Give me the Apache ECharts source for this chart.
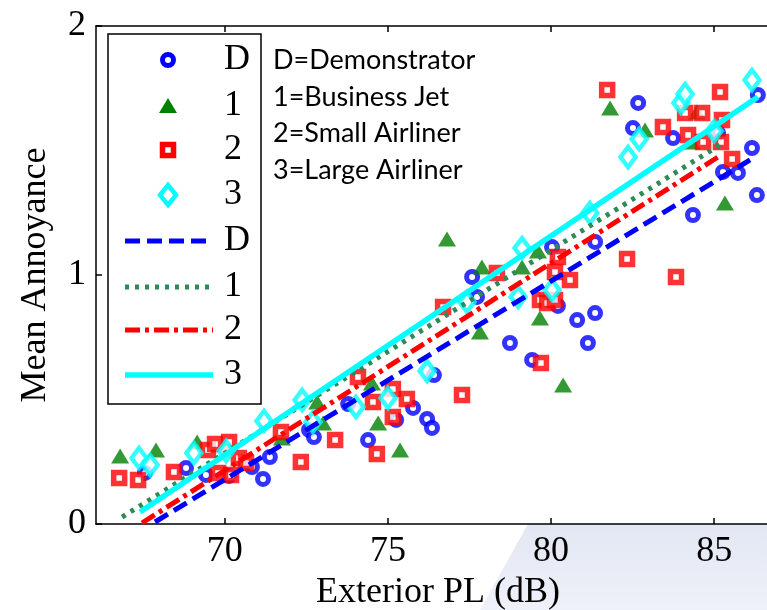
<!DOCTYPE html>
<html>
<head>
<meta charset="utf-8">
<script src="https://cdn.jsdelivr.net/npm/echarts@6/dist/echarts.min.js"></script>
<style>html,body{margin:0;padding:0;background:#fff}#c{width:767px;height:610px}</style>
</head>
<body>
<div id="c"></div>
<script>
// ---- data ----
var xTicks = [70, 75, 80, 85];
var yTicks = [0, 1, 2];
var seriesD = [[67.55,0.205],[68.81,0.225],[69.42,0.197],[70.13,0.193],[70.83,0.229],[71.17,0.181],[71.38,0.269],[72.58,0.378],[72.73,0.349],[73.78,0.482],[74.39,0.337],[75.25,0.418],[75.77,0.466],[76.20,0.422],[76.35,0.386],[76.41,0.598],[77.58,0.992],[77.73,0.912],[78.74,0.727],[79.42,0.659],[80.03,1.112],[80.21,0.876],[80.80,0.819],[81.35,0.847],[81.13,0.727],[81.35,1.133],[82.67,1.691],[82.51,1.590],[83.74,1.550],[84.35,1.241],[85.12,1.570],[85.27,1.414],[85.73,1.410],[86.16,1.510],[86.34,1.723],[86.31,1.321]];
var series1 = [[66.79,0.273],[67.89,0.297],[69.15,0.329],[71.75,0.345],[72.83,0.490],[73.01,0.406],[74.51,0.566],[74.70,0.406],[75.37,0.297],[76.81,1.145],[77.88,1.032],[77.82,0.771],[79.11,1.032],[79.60,1.096],[79.66,0.827],[80.37,0.558],[81.81,1.671],[82.88,1.582],[84.47,1.655],[84.32,1.534],[85.33,1.289]];
var series2 = [[66.76,0.185],[67.34,0.177],[68.44,0.209],[69.48,0.297],[69.70,0.321],[70.13,0.329],[69.79,0.205],[70.19,0.197],[70.43,0.265],[70.65,0.245],[71.72,0.369],[72.33,0.249],[73.38,0.337],[74.08,0.590],[74.54,0.490],[75.15,0.542],[75.58,0.502],[75.15,0.430],[74.66,0.281],[76.69,0.871],[77.27,0.518],[78.34,1.008],[79.66,0.900],[79.88,0.888],[80.12,0.900],[80.58,0.980],[80.21,1.072],[80.12,1.012],[79.69,0.647],[82.33,1.064],[83.83,0.992],[81.72,1.743],[85.18,1.735],[83.43,1.594],[84.11,1.651],[84.63,1.651],[85.24,1.622],[84.20,1.562],[84.66,1.534],[85.21,1.534],[85.55,1.466]];
var series3 = [[67.37,0.265],[67.71,0.237],[69.05,0.285],[70.04,0.293],[71.20,0.414],[72.37,0.498],[72.70,0.410],[74.02,0.470],[75.00,0.506],[76.20,0.614],[77.42,0.892],[78.99,0.912],[79.11,1.108],[80.03,0.940],[81.19,1.249],[82.36,1.474],[82.70,1.546],[83.98,1.691],[84.11,1.727],[85.00,1.578],[86.16,1.783]];
var fitD = [[67.86,0.008],[86.10,1.462]];
var fit1 = [[66.85,0.028],[85.27,1.530]];
var fit2 = [[67.46,0.004],[85.12,1.474]];
var fit3 = [[67.40,0.048],[86.34,1.715]];
var legendLabels = ['D','1','2','3','D','1','2','3'];
var noteLines = ['D=Demonstrator','1=Business Jet','2=Small Airliner','3=Large Airliner'];

// ---- styles ----
var BLUE='#0000ff', GREEN='#008000', DGREEN='#2e8b57', RED='#ff0000', CYAN='#00ffff';
var serif = 'Liberation Serif';

var chart = echarts.init(document.getElementById('c'), null, {renderer:'canvas'});

var lineStyles = [
  {color:BLUE, width:5, type:[15,7]},
  {color:DGREEN, width:5, type:[4,6]},
  {color:RED, width:5, type:[15,5,4,5]},
  {color:CYAN, width:5.5, type:'solid'}
];

var g = [];
g.push({type:'polygon', silent:true, z:0, shape:{points:[[480,610],[528,524],[767,524],[767,610]]},
  style:{fill:new echarts.graphic.LinearGradient(0,0,0,1,[{offset:0,color:'#e3e7f3'},{offset:1,color:'#eef1f9'}])}});
g.push({type:'rect', z:10, shape:{x:108,y:34,width:153,height:370}, style:{fill:'#fff', stroke:'#000', lineWidth:1.5}});
var rowY = [60,106,150,195,241,287,330,375];
var mx = 168;
g.push({type:'circle', z:11, shape:{cx:mx, cy:rowY[0], r:5.5}, style:{fill:'#fff', stroke:BLUE, lineWidth:5}});
g.push({type:'polygon', z:11, shape:{points:[[mx-9,rowY[1]+7],[mx+9,rowY[1]+7],[mx,rowY[1]-8]]}, style:{fill:GREEN}});
g.push({type:'rect', z:11, shape:{x:mx-5.5,y:rowY[2]-5.5,width:11,height:11}, style:{fill:'#fff', stroke:RED, lineWidth:5.5}});
g.push({type:'polygon', z:11, shape:{points:[[mx,rowY[3]-10],[mx+8,rowY[3]],[mx,rowY[3]+10],[mx-8,rowY[3]]]}, style:{fill:'#fff', stroke:CYAN, lineWidth:4.5}});
for (var i=0;i<4;i++){
  var ls = lineStyles[i];
  g.push({type:'line', z:11, shape:{x1:125,y1:rowY[4+i],x2:213,y2:rowY[4+i]},
    style:{stroke:ls.color, lineWidth:ls.width, lineDash: ls.type==='solid'?null:ls.type}});
}
for (var j=0;j<legendLabels.length;j++){
  g.push({type:'text', z:11, x:224, y:rowY[j], style:{text:legendLabels[j], font:'36px "'+serif+'"', fill:'#000', verticalAlign:'middle', align:'left'}});
}
var noteY = [60,97,133,170];
for (var k=0;k<noteLines.length;k++){
  g.push({type:'text', z:11, x:273, y:noteY[k], style:{text:noteLines[k], font:'27px Lato', fill:'#000', verticalAlign:'middle', align:'left'}});
}

function scat(name, data, symbol, size, style){
  return {type:'scatter', name:name, data:data, symbol:symbol, symbolSize:size, itemStyle:style, z:2, silent:true, animation:false};
}
function fit(name, data, ls){
  return {type:'line', name:name, data:data, symbol:'none', z:3, silent:true, animation:false,
    lineStyle:{color:ls.color, width:ls.width, type:ls.type, cap:'butt'}};
}

var axisCommon = {
  axisLine:{show:true, onZero:false, lineStyle:{color:'#000', width:1.5}},
  splitLine:{show:false}
};

chart.setOption({
  animation:false,
  backgroundColor:'#fff',
  grid:{left:96, top:26, right:0, bottom:86, containLabel:false, outerBoundsMode:'none'},
  xAxis:[
    Object.assign({type:'value', min:66.05, max:86.62, position:'bottom',
      name:'Exterior PL (dB)', nameLocation:'middle', nameGap:50,
      nameTextStyle:{fontFamily:serif, fontSize:36, color:'#000', padding:[0,0,0,13]},
      axisTick:{show:true, inside:true, length:6, customValues:xTicks, lineStyle:{color:'#000', width:1.5}},
      axisLabel:{show:true, customValues:xTicks, fontFamily:serif, fontSize:36, color:'#000', margin:10}
    }, axisCommon),
    Object.assign({type:'value', min:66.05, max:86.62, position:'top',
      axisTick:{show:true, inside:true, length:6, customValues:xTicks, lineStyle:{color:'#000', width:1.5}},
      axisLabel:{show:false}
    }, axisCommon)
  ],
  yAxis:[
    Object.assign({type:'value', min:0, max:2, interval:1, position:'left',
      name:'Mean Annoyance', nameLocation:'middle', nameGap:42,
      nameTextStyle:{fontFamily:serif, fontSize:36, color:'#000'},
      axisTick:{show:true, inside:true, length:6, lineStyle:{color:'#000', width:1.5}},
      axisLabel:{show:true, fontFamily:serif, fontSize:36, color:'#000', margin:10}
    }, axisCommon)
  ],
  graphic:g,
  series:[
    scat('D', seriesD, 'circle', 11, {color:'#fff', borderColor:BLUE, borderWidth:5}),
    scat('1', series1, 'triangle', [18,15], {color:GREEN}),
    scat('2', series2, 'rect', 11, {color:'#fff', borderColor:RED, borderWidth:5.5}),
    scat('3', series3, 'diamond', [15,20], {color:'#fff', borderColor:CYAN, borderWidth:4.5}),
    fit('D fit', fitD, lineStyles[0]),
    fit('1 fit', fit1, lineStyles[1]),
    fit('2 fit', fit2, lineStyles[2]),
    fit('3 fit', fit3, lineStyles[3])
  ]
});
</script>
</body>
</html>
